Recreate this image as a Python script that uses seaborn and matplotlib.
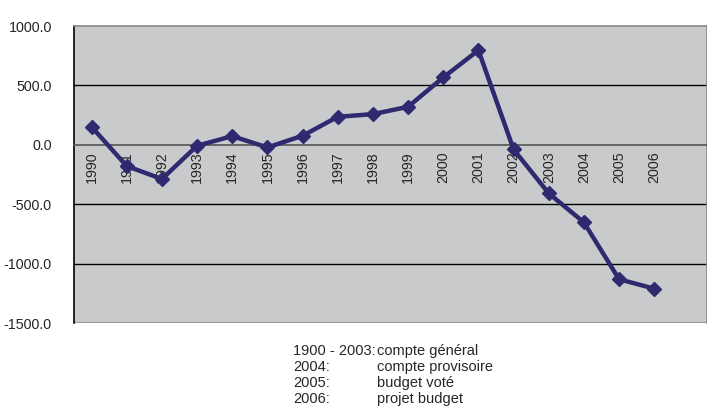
import numpy as np
import pandas as pd
import matplotlib
matplotlib.use("Agg")
import matplotlib.pyplot as plt
import seaborn as sns

# Annual balance, 1990-2006
years = ["1990", "1991", "1992", "1993", "1994", "1995", "1996", "1997", "1998",
         "1999", "2000", "2001", "2002", "2003", "2004", "2005", "2006"]
balance = [151, -179, -288, -8, 73, -22, 76, 236, 258,
           320, 567, 796, -39, -409, -653, -1132, -1211]

y_ticks = [1000, 500, 0, -500, -1000, -1500]

note_periods = ["1900 - 2003:", "2004:", "2005:", "2006:"]
note_sources = ["compte général", "compte provisoire", "budget voté", "projet budget"]

df = pd.DataFrame({"pos": np.arange(len(years)), "balance": balance})

sns.set_style("white")
plt.rcParams["font.family"] = ["Liberation Sans", "DejaVu Sans"]

fig = plt.figure(figsize=(7.07, 4.09), dpi=100)
ax = fig.add_axes([74 / 707, 1 - 323 / 409, 1 - 74 / 707, (323 - 26) / 409])
ax.set_facecolor("#C9CACC")

# horizontal gridlines
for v in [500, -500, -1000]:
    ax.axhline(v, color="black", lw=1.0, zorder=1)

sns.lineplot(data=df, x="pos", y="balance", ax=ax, color="#2F2A6F",
             linewidth=3.2, marker="D", markersize=7.5,
             markeredgecolor="#2F2A6F", markeredgewidth=1, zorder=3)

ax.set_ylim(-1500, 1000)
ax.set_xlim(-0.5, 17.33)
ax.set_yticks(y_ticks)
ax.set_yticklabels([f"{v:.1f}" for v in y_ticks], fontsize=10.3)
ax.tick_params(axis="y", direction="out", length=4, width=1, color="black", pad=12)

# category axis sits on the zero line
ax.spines["bottom"].set_position(("data", 0))
ax.spines["bottom"].set_color("#555555")
ax.spines["bottom"].set_linewidth(1.2)
ax.spines["left"].set_color("black")
ax.spines["left"].set_linewidth(1.2)
for s in ["top", "right"]:
    ax.spines[s].set_color("#888888")
    ax.spines[s].set_linewidth(1.2)
# bottom frame edge of the plot area
ax.axhline(-1500, color="#999999", lw=1.5, zorder=2)

ax.set_xticks(np.arange(len(years)))
ax.set_xticklabels(years, rotation=90, fontsize=10.3, va="top")
ax.set_xticks(np.arange(-0.5, 18, 1.0), minor=True)
ax.tick_params(axis="x", which="major", length=0, pad=5)
ax.tick_params(axis="x", which="minor", direction="out", length=5, width=1, color="#555555")
ax.set_xlabel("")
ax.set_ylabel("")

# source notes below the chart
for i, (p, s) in enumerate(zip(note_periods, note_sources)):
    y = 1 - (351 + 16 * i) / 409
    fig.text(293 / 707, y, p, fontsize=10.5, va="center", ha="left")
    fig.text(377 / 707, y, s, fontsize=10.5, va="center", ha="left")

fig.savefig("out.png", dpi=100)
